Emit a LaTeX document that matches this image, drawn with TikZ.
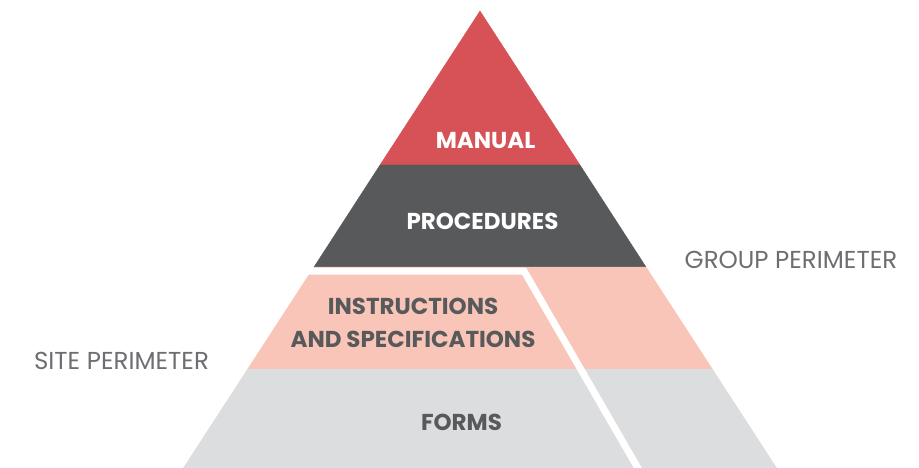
\documentclass[tikz,border=0pt]{standalone}
\usepackage{fontspec}
\setmainfont{Poppins}
\definecolor{manualred}{HTML}{D75257}
\definecolor{procgray}{HTML}{58595B}
\definecolor{instrpink}{HTML}{F9C5B8}
\definecolor{formsgray}{HTML}{DCDDDF}
\definecolor{labelgray}{HTML}{6D6E71}
\tikzset{
	levellabel/.style={font=\bfseries\fontsize{23}{33}\selectfont, align=center},
	perimlabel/.style={font=\fontsize{24.5}{28}\selectfont, text=labelgray}
}

\begin{document}
\begin{tikzpicture}[x=1pt,y=-1pt]

	\useasboundingbox (0,0) rectangle (919,468);

	% bands of the pyramid
	\draw[manualred,fill=manualred] (480,11) -- (580,165) -- (380,165) -- cycle;
	\draw[procgray,fill=procgray] (380,165) -- (580,165) -- (646,267) -- (314,267) -- cycle;
	\draw[instrpink,fill=instrpink] (314,267) -- (646,267) -- (712.3,369) -- (247.7,369) -- cycle;
	\draw[formsgray,fill=formsgray] (247.7,369) -- (712.3,369) -- (776.6,468) -- (183.4,468) -- cycle;

	% split between site and group
	\draw[white,line width=7pt] (290,271) -- (524,271) -- (639,470);

%	\draw (480,11) -- (480,468);

	\node[levellabel,text=white] (manual) at (485.5,141) {MANUAL};
	\node[levellabel,text=white] (procedures) at (482.5,221) {PROCEDURES};
	\node[levellabel,text=procgray] (instructions) at (413,322.5) {INSTRUCTIONS\\AND SPECIFICATIONS};
	\node[levellabel,text=procgray] (forms) at (461.5,422.5) {FORMS};

	\node[perimlabel] (site) at (121.5,360.5) {SITE PERIMETER};
	\node[perimlabel] (group) at (791,260) {GROUP PERIMETER};

\end{tikzpicture}
\end{document}
